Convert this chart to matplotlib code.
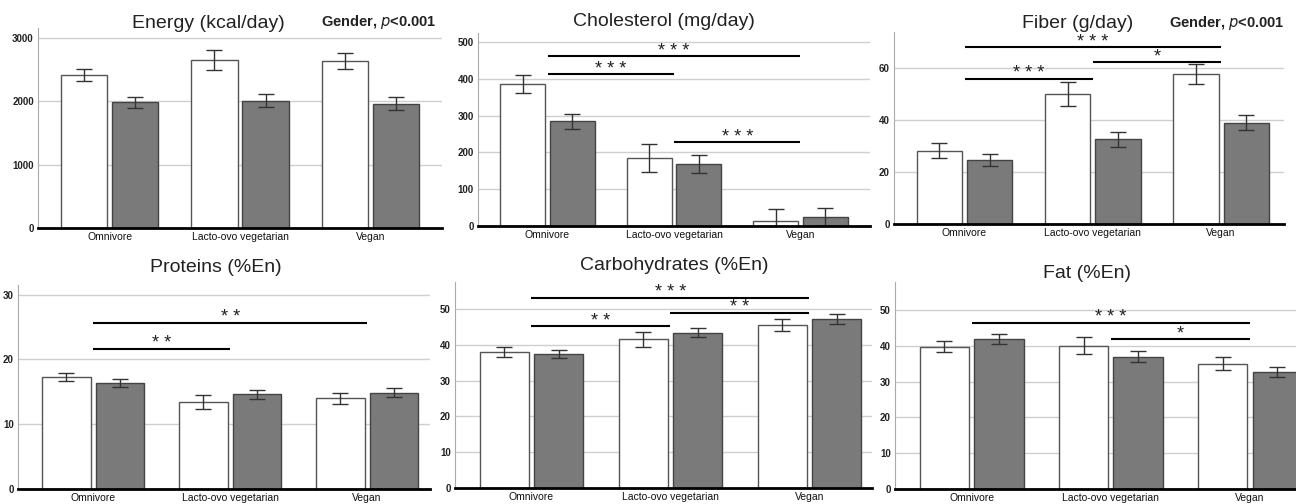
import numpy as np
import matplotlib
matplotlib.use("Agg")
import matplotlib.pyplot as plt

plt.rcParams['font.family'] = ['Liberation Sans', 'DejaVu Sans']

groups = ["Omnivore", "Lacto-ovo vegetarian", "Vegan"]

# men (white) / women (grey), mean and error
energy_m = [2407, 2653, 2632]
energy_m_err = [97, 158, 131]
energy_f = [1977, 2003, 1956]
energy_f_err = [92, 100, 100]

chol_m = [387, 184, 14]
chol_m_err = [25, 38, 31]
chol_f = [285, 168, 24]
chol_f_err = [21, 25, 24]

fiber_m = [28.2, 49.9, 57.6]
fiber_m_err = [2.75, 4.5, 3.75]
fiber_f = [24.5, 32.6, 38.8]
fiber_f_err = [2.4, 2.9, 2.9]

prot_m = [17.3, 13.4, 14.0]
prot_m_err = [0.65, 1.05, 0.9]
prot_f = [16.4, 14.6, 14.9]
prot_f_err = [0.6, 0.65, 0.7]

carb_m = [38.0, 41.6, 45.6]
carb_m_err = [1.3, 2.1, 1.75]
carb_f = [37.4, 43.4, 47.2]
carb_f_err = [1.15, 1.3, 1.35]

fat_m = [39.8, 40.1, 35.0]
fat_m_err = [1.5, 2.3, 1.85]
fat_f = [42.0, 37.0, 32.7]
fat_f_err = [1.35, 1.5, 1.5]

# significance brackets: (from group, to group, height, label)
chol_sig = [(0, 2, 462, "* * *"), (0, 1, 414, "* * *"), (1, 2, 228, "* * *")]
fiber_sig = [(0, 2, 67.9, "* * *"), (1, 2, 62.3, "*"), (0, 1, 55.8, "* * *")]
prot_sig = [(0, 2, 25.6, "* *"), (0, 1, 21.6, "* *")]
carb_sig = [(0, 2, 53.2, "* * *"), (1, 2, 49.0, "* *"), (0, 1, 45.2, "* *")]
fat_sig = [(0, 2, 46.5, "* * *"), (1, 2, 41.9, "*")]

W, H = 1296, 504
fig = plt.figure(figsize=(W / 100, H / 100), dpi=100)


def px_axes(x0, x1, ytop, ybot):
    return fig.add_axes([x0 / W, 1 - ybot / H, (x1 - x0) / W, (ybot - ytop) / H])


def panel(ax, m, merr, f, ferr, ymax, yticks, xright, sig, star_off):
    x = np.arange(3)
    off, bw = 0.196, 0.355
    ax.bar(x - off, m, bw, color="white", edgecolor="#555555", lw=1, zorder=2)
    ax.bar(x + off, f, bw, color="#7a7a7a", edgecolor="#444444", lw=1, zorder=2)
    ax.errorbar(x - off, m, yerr=merr, fmt="none", ecolor="#333333",
                elinewidth=1, capsize=6, capthick=1, zorder=3)
    ax.errorbar(x + off, f, yerr=ferr, fmt="none", ecolor="#333333",
                elinewidth=1, capsize=6, capthick=1, zorder=3)
    ax.set_xlim(-0.55, xright)
    ax.set_ylim(0, ymax)
    ax.set_yticks(yticks)
    ax.set_yticklabels([str(t) for t in yticks], fontsize=7, fontweight="bold",
                       color="#222222")
    ax.set_xticks(x)
    ax.set_xticklabels(groups, fontsize=7.5, color="#111111")
    ax.tick_params(length=0, pad=3)
    for t in yticks[1:]:
        ax.axhline(t, color="#cfcfcf", lw=1, zorder=1)
    for s in ["top", "right"]:
        ax.spines[s].set_visible(False)
    ax.spines["left"].set_color("#aaaaaa")
    ax.spines["left"].set_linewidth(0.8)
    ax.spines["bottom"].set_linewidth(2)
    ax.spines["bottom"].set_color("black")
    ax.spines["bottom"].set_zorder(4)
    for a, b, h, lab in sig:
        ax.plot([a, b], [h, h], color="black", lw=1.5, zorder=3,
                solid_capstyle="butt")
        ax.text((a + b) / 2, h + star_off, lab, ha="center", va="center",
                fontsize=13, color="#222222", zorder=3)


ax1 = px_axes(38, 442, 28, 228)
panel(ax1, energy_m, energy_m_err, energy_f, energy_f_err, 3150,
      [0, 1000, 2000, 3000], 2.55, [], 0)

ax2 = px_axes(478, 870, 33, 226)
panel(ax2, chol_m, chol_m_err, chol_f, chol_f_err, 525,
      [0, 100, 200, 300, 400, 500], 2.55, chol_sig, 12)

ax3 = px_axes(894, 1284, 32, 224)
panel(ax3, fiber_m, fiber_m_err, fiber_f, fiber_f_err, 73.7,
      [0, 20, 40, 60], 2.49, fiber_sig, 1.8)

ax4 = px_axes(18, 430, 285, 489)
panel(ax4, prot_m, prot_m_err, prot_f, prot_f_err, 31.5,
      [0, 10, 20, 30], 2.46, prot_sig, 0.9)

ax5 = px_axes(455, 872, 282, 488)
panel(ax5, carb_m, carb_m_err, carb_f, carb_f_err, 57.6,
      [0, 10, 20, 30, 40, 50], 2.45, carb_sig, 1.4)

ax6 = px_axes(895, 1296, 282, 489)
panel(ax6, fat_m, fat_m_err, fat_f, fat_f_err, 57.9,
      [0, 10, 20, 30, 40, 50], 2.33, fat_sig, 1.4)

titles = [("Energy (kcal/day)", 208, 23), ("Cholesterol (mg/day)", 664, 22),
          ("Fiber (g/day)", 1078, 23), ("Proteins (%En)", 216, 268),
          ("Carbohydrates (%En)", 674, 265), ("Fat (%En)", 1087, 273)]
for txt, px, py in titles:
    fig.text(px / W, 1 - py / H, txt, ha="center", va="center", fontsize=14,
             color="#222222")

for px, py in [(379, 22), (1227, 23)]:
    fig.text(px / W, 1 - py / H, r"Gender, $\mathit{p}$<0.001", ha="center",
             va="center", fontsize=10.5, fontweight="bold", color="#222222")

fig.savefig("out.png", dpi=100)
